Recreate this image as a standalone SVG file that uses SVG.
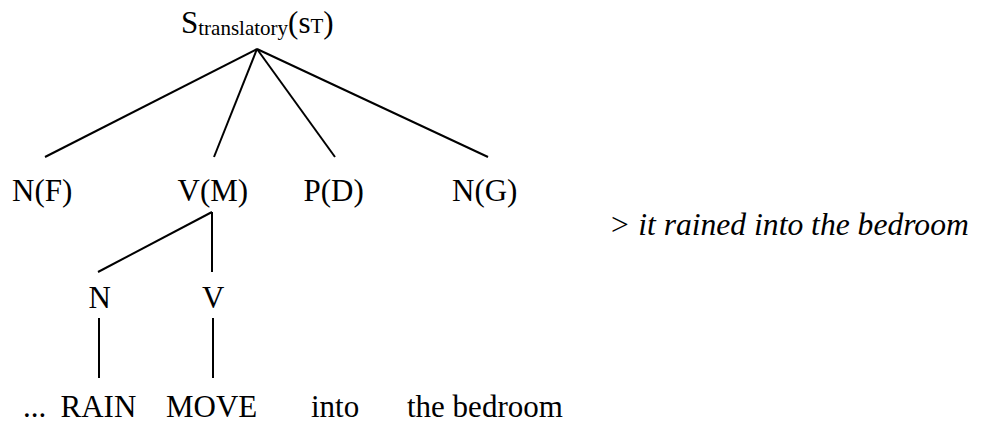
<svg xmlns="http://www.w3.org/2000/svg" width="982" height="423" viewBox="0 0 982 423">
<style>
text{font-family:'Liberation Serif','Times New Roman',serif;font-size:31px;fill:#000}
.sub{font-size:21px}
.it{font-style:italic;font-size:31.6px}
.c line{stroke:#000;stroke-width:2;stroke-linecap:butt}
</style>
<rect width="982" height="423" fill="#fff"/>
<g class="c" id="connectors">
<line x1="257" y1="49" x2="45" y2="157"/>
<line x1="257" y1="49" x2="214" y2="157"/>
<line x1="257" y1="49" x2="335" y2="157"/>
<line x1="257" y1="49" x2="488" y2="157"/>
<line x1="212" y1="212" x2="98" y2="272"/>
<line x1="212" y1="212" x2="212" y2="272"/>
<line x1="99" y1="318" x2="99" y2="378"/>
<line x1="213" y1="318" x2="213" y2="378"/>
</g>
<g id="root"><text x="181" y="33">S<tspan class="sub" dy="1.5">translatory</tspan><tspan dy="-1.5">(s</tspan><tspan class="sub">T</tspan>)</text></g>
<g id="nF"><text x="12" y="201">N(F)</text></g>
<g id="vM"><text x="177.5" y="201">V(M)</text></g>
<g id="pD"><text x="303.5" y="201">P(D)</text></g>
<g id="nG"><text x="452" y="201">N(G)</text></g>
<g id="n"><text x="88.5" y="308">N</text></g>
<g id="v"><text x="202" y="308">V</text></g>
<g id="dots"><text x="23" y="417">...</text></g>
<g id="rain"><text x="60.5" y="417">RAIN</text></g>
<g id="move"><text x="166" y="417">MOVE</text></g>
<g id="into"><text x="311" y="417">into</text></g>
<g id="bedroom"><text x="407" y="417">the bedroom</text></g>
<g id="gloss"><text class="it" x="609" y="235">&gt; it rained into the bedroom</text></g>
</svg>
